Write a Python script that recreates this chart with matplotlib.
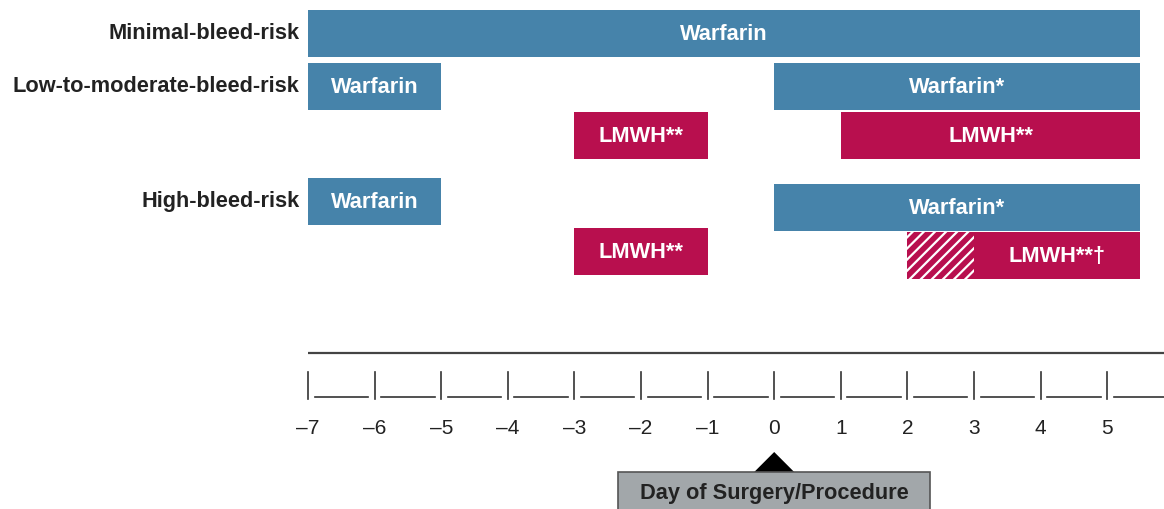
import matplotlib
matplotlib.use("Agg")
import matplotlib.pyplot as plt
from matplotlib.patches import Rectangle, Polygon

plt.rcParams['font.family'] = ['Liberation Sans', 'DejaVu Sans']
plt.rcParams['hatch.linewidth'] = 1.6

BLUE = '#4683aa'
RED = '#b80f4e'

# Data
row_labels = ['Minimal-bleed-risk', 'Low-to-moderate-bleed-risk', 'High-bleed-risk']
bar_text = ['Warfarin', 'Warfarin', 'Warfarin*', 'LMWH**', 'LMWH**',
            'Warfarin', 'Warfarin*', 'LMWH**', '', 'LMWH**\u2020']
bar_start = [-7, -7, 0, -3, 1, -7, 0, -3, 2, 3]
bar_end = [5.5, -5, 5.5, -1, 5.5, -5, 5.5, -1, 3, 5.5]
bar_kind = ['W', 'W', 'W', 'L', 'L', 'W', 'W', 'L', 'H', 'L']
days = list(range(-7, 6))

# layout (pixel rows) for each bar's top edge
bar_top = [10, 63, 63, 112, 112, 178, 184, 228, 232, 232]
bar_h = 47
label_y = [33, 86, 202]

fig = plt.figure(figsize=(11.64, 5.09), dpi=100)
ax = fig.add_axes([0, 0, 1, 1])
ax.set_xlim(-11.625, 5.853)
ax.set_ylim(509, 0)
ax.axis('off')

FS = 15.7
for txt, s, e, k, top in zip(bar_text, bar_start, bar_end, bar_kind, bar_top):
    if k == 'H':
        ax.add_patch(Rectangle((s, top), e - s, bar_h, facecolor=RED,
                               edgecolor='white', hatch='///', linewidth=0))
    else:
        ax.add_patch(Rectangle((s, top), e - s, bar_h,
                               facecolor=BLUE if k == 'W' else RED,
                               edgecolor='none'))
    if txt:
        ax.text((s + e) / 2, top + bar_h / 2 + 1, txt, color='white',
                fontsize=FS, fontweight='bold', ha='center', va='center')

for lab, y in zip(row_labels, label_y):
    ax.text(-7.13, y, lab, ha='right', va='center', fontsize=FS,
            fontweight='bold', color='#222222')

# timeline
ax.plot([-7, 5.853], [353, 353], color='#444444', lw=1.6, solid_capstyle='butt')
for d in days:
    ax.plot([d, d], [372, 399], color='#333333', lw=1.2)
    ax.plot([d + 0.1, min(d + 0.9, 5.853)], [397, 397], color='#333333', lw=1.2)
    ax.text(d, 429, f'\u2013{-d}' if d < 0 else str(d), ha='center', va='center',
            fontsize=15, color='#222222')

# day of surgery marker
ax.add_patch(Polygon([(-0.3, 472), (0, 452), (0.3, 472)], closed=True,
                     facecolor='black', edgecolor='none'))
ax.add_patch(Rectangle((-2.34, 472), 4.68, 45, facecolor='#a2a7aa',
                       edgecolor='#555555', linewidth=1.2))
ax.text(0, 493, 'Day of Surgery/Procedure', ha='center', va='center',
        fontsize=FS, fontweight='bold', color='#222222')

fig.savefig('out.png', dpi=100)
